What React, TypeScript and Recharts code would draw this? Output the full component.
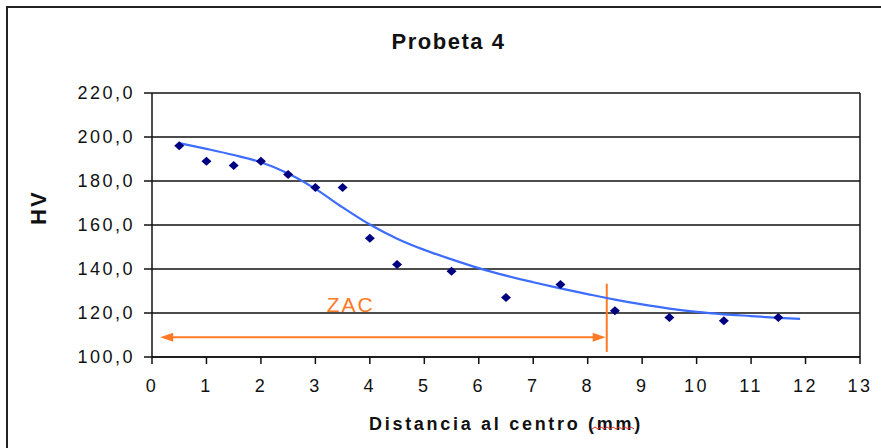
import {
  CartesianGrid,
  ComposedChart,
  Line,
  ReferenceDot,
  ReferenceLine,
  Scatter,
  XAxis,
  YAxis,
} from "recharts";

const distances = [0.5, 1, 1.5, 2, 2.5, 3, 3.5, 4, 4.5, 5.5, 6.5, 7.5, 8.5, 9.5, 10.5, 11.5];
const hardness = [196, 189, 187, 189, 183, 177, 177, 154, 142, 139, 127, 133, 121, 118, 116.5, 118];

const trendX = [0.5, 1, 1.5, 2, 2.5, 3, 3.5, 4, 4.5, 5, 5.5, 6, 6.5, 7, 7.5, 8, 8.5, 9, 9.5, 10, 10.5, 11, 11.5, 11.9];
const trendY = [197.2, 194.6, 191.8, 188.5, 183.4, 176.4, 168, 160.2, 153.8, 148.7, 144.4, 140.4, 137, 134, 131.2, 128.6, 126.1, 123.9, 122, 120.5, 119.4, 118.6, 117.8, 117.3];

const xTicks = [0, 1, 2, 3, 4, 5, 6, 7, 8, 9, 10, 11, 12, 13];
const yTicks = [100, 120, 140, 160, 180, 200, 220];

// ZAC annotation (in data units)
const zacStart = 0.15;
const zacEnd = 8.33;
const zacLevel = 109;
const zacBoundary = 8.35;
const zacBoundaryRange = [102.3, 133.3];
const zacLabel = { x: 3.65, y: 123, text: "ZAC" };

const points = distances.map((x, i) => ({ x, y: hardness[i] }));
const trend = trendX.map((x, i) => ({ x, y: trendY[i] }));

const ORANGE = "#ff7a26";
const FONT = "'Liberation Sans', Arial, sans-serif";

const Diamond = (props: any) => {
  const { cx, cy } = props;
  return (
    <polygon
      points={`${cx},${cy - 4.5} ${cx + 5},${cy} ${cx},${cy + 4.5} ${cx - 5},${cy}`}
      fill="#000080"
    />
  );
};

const ArrowLeft = (props: any) => {
  const { cx, cy } = props;
  return (
    <polygon points={`${cx},${cy} ${cx + 13},${cy - 4.5} ${cx + 13},${cy + 4.5}`} fill={ORANGE} />
  );
};

const ArrowRight = (props: any) => {
  const { cx, cy } = props;
  return (
    <polygon points={`${cx},${cy} ${cx - 13},${cy - 4.5} ${cx - 13},${cy + 4.5}`} fill={ORANGE} />
  );
};

const ZacText = (props: any) => {
  const { cx, cy } = props;
  return (
    <text
      x={cx}
      y={cy}
      textAnchor="middle"
      dominantBaseline="middle"
      fill={ORANGE}
      fontSize={21}
      fontFamily={FONT}
      letterSpacing={2}
    >
      {zacLabel.text}
    </text>
  );
};

export default function App() {
  return (
    <div
      style={{
        position: "absolute",
        left: 0,
        top: 0,
        width: 881,
        height: 448,
        overflow: "hidden",
        background: "#fff",
      }}
    >
      <div
        style={{
          position: "absolute",
          left: 6,
          top: 6,
          width: 1000,
          height: 1000,
          borderLeft: "2px solid #222",
          borderTop: "2px solid #222",
        }}
      />
      <div
        style={{
          position: "absolute",
          left: 0,
          top: 29,
          width: 897,
          textAlign: "center",
          fontFamily: FONT,
          fontWeight: "bold",
          fontSize: 22,
          letterSpacing: 1.5,
          color: "#111",
        }}
      >
        Probeta 4
      </div>
      <ComposedChart
        width={881}
        height={448}
        margin={{ top: 93, right: 21, bottom: 0, left: 0 }}
        style={{ position: "absolute", left: 0, top: 0 }}
      >
        <CartesianGrid vertical={false} stroke="#111" strokeWidth={1.5} />
        <XAxis
          type="number"
          dataKey="x"
          domain={[0, 13]}
          ticks={xTicks}
          interval={0}
          allowDataOverflow
          height={91}
          tickSize={7}
          tickMargin={15}
          axisLine={{ stroke: "#111", strokeWidth: 1.5 }}
          tickLine={{ stroke: "#111", strokeWidth: 1.5 }}
          tick={{ fill: "#111", fontSize: 18, fontFamily: FONT, letterSpacing: 2.5 }}
          label={{
            value: "Distancia al centro (mm)",
            position: "insideBottom",
            offset: 18,
            fill: "#111",
            fontSize: 18,
            fontWeight: "bold",
            fontFamily: FONT,
            letterSpacing: 2.7,
          }}
        />
        <YAxis
          type="number"
          domain={[100, 220]}
          ticks={yTicks}
          interval={0}
          width={152}
          tickSize={8}
          tickMargin={9}
          axisLine={{ stroke: "#111", strokeWidth: 1.5 }}
          tickLine={{ stroke: "#111", strokeWidth: 1.5 }}
          tickFormatter={(v: number) => v.toFixed(1).replace(".", ",")}
          tick={{ fill: "#111", fontSize: 18, fontFamily: FONT, letterSpacing: 2.5 }}
          label={{
            value: "HV",
            angle: -90,
            position: "insideLeft",
            offset: 38,
            fill: "#111",
            fontSize: 22,
            fontWeight: "bold",
            fontFamily: FONT,
            letterSpacing: 2,
          }}
        />
        <ReferenceLine x={13} stroke="#111" strokeWidth={1.5} />
        <ReferenceLine
          segment={[
            { x: zacStart + 0.15, y: zacLevel },
            { x: zacEnd - 0.15, y: zacLevel },
          ]}
          stroke={ORANGE}
          strokeWidth={2}
        />
        <ReferenceLine
          segment={[
            { x: zacBoundary, y: zacBoundaryRange[0] },
            { x: zacBoundary, y: zacBoundaryRange[1] },
          ]}
          stroke={ORANGE}
          strokeWidth={2}
        />
        <ReferenceDot x={zacStart} y={zacLevel} shape={ArrowLeft} />
        <ReferenceDot x={zacEnd} y={zacLevel} shape={ArrowRight} />
        <ReferenceDot x={zacLabel.x} y={zacLabel.y} shape={ZacText} />
        <Line
          data={trend}
          dataKey="y"
          type="monotone"
          stroke="#3d6dff"
          strokeWidth={2.2}
          dot={false}
          activeDot={false}
          isAnimationActive={false}
        />
        <Scatter data={points} dataKey="y" shape={Diamond} isAnimationActive={false} />
      </ComposedChart>
      <svg
        width={881}
        height={448}
        style={{ position: "absolute", left: 0, top: 0, pointerEvents: "none" }}
      >
        <path
          d="M592 429 l3 -2 l3 2 l3 -2 l3 2 l3 -2 l3 2 l3 -2 l3 2 l3 -2 l3 2 l3 -2 l3 2 l3 -2 l3 2"
          fill="none"
          stroke="#e03030"
          strokeWidth={1}
        />
      </svg>
    </div>
  );
}
